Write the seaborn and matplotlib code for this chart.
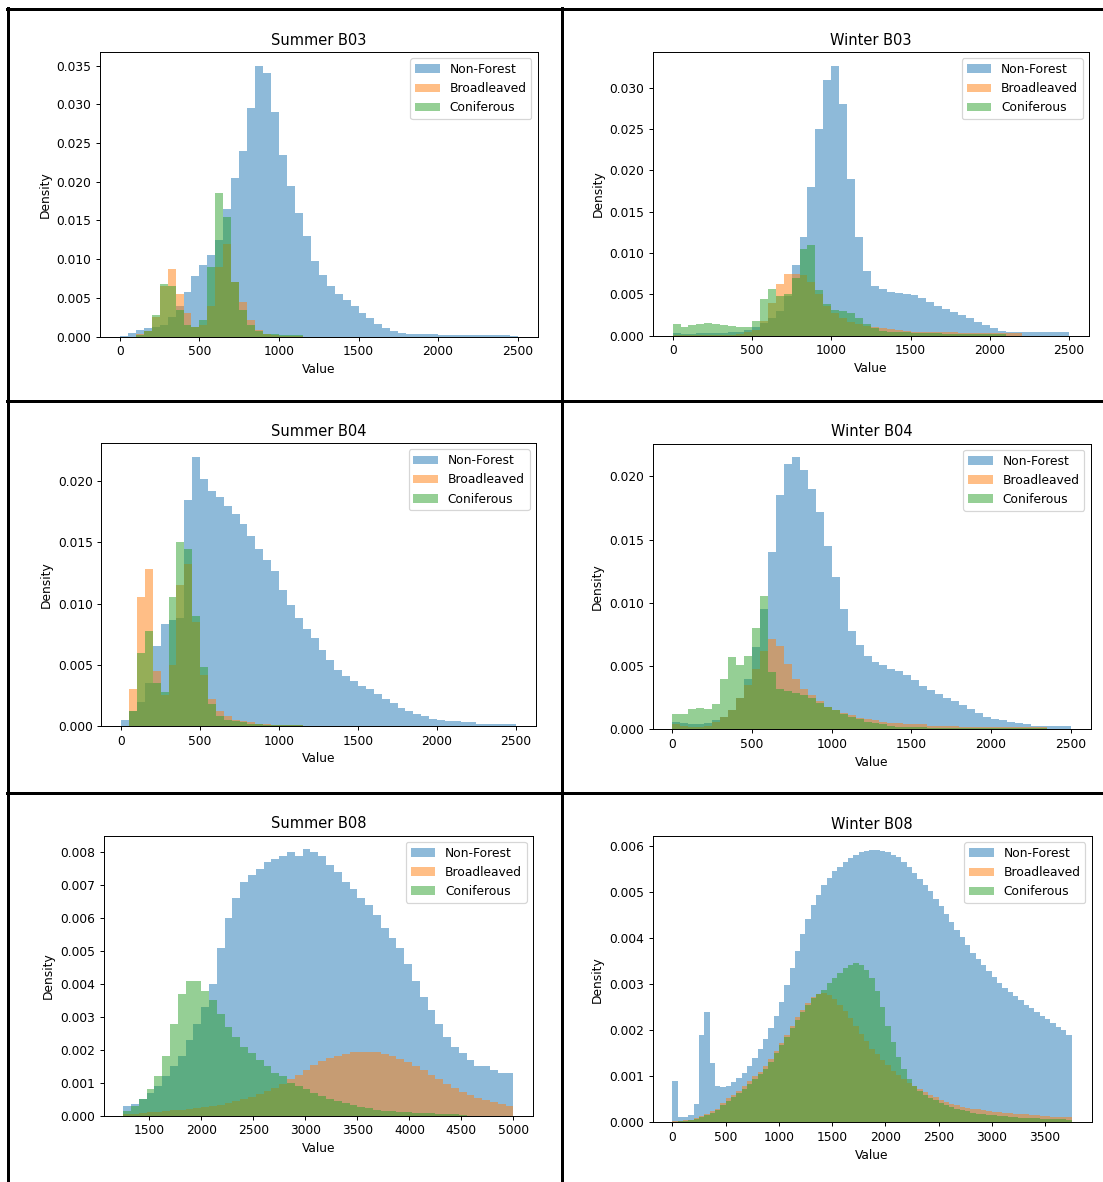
import matplotlib
matplotlib.use('Agg')
import matplotlib.pyplot as plt
from matplotlib.lines import Line2D
import numpy as np
import pandas as pd
import seaborn as sns

# ---- data (density per bin) ----
classes = ['Non-Forest', 'Broadleaved', 'Coniferous']
titles = ['Summer B03', 'Winter B03', 'Summer B04', 'Winter B04', 'Summer B08', 'Winter B08']

# Summer B03, bins of 50
s_b03_nonforest = [0.0001, 0.0005, 0.0009, 0.0011, 0.0012, 0.0015, 0.0025, 0.004, 0.0058, 0.0078,
                   0.0092, 0.0105, 0.0125, 0.0165, 0.0205, 0.024, 0.0295, 0.035, 0.034, 0.029,
                   0.0235, 0.0195, 0.016, 0.013, 0.0098, 0.008, 0.0065, 0.0055, 0.0048, 0.004,
                   0.0031, 0.0024, 0.0017, 0.0011, 0.0007, 0.0005, 0.0004, 0.0004, 0.0003, 0.0003,
                   0.0002, 0.0002, 0.0002, 0.0002, 0.0002, 0.0002, 0.0002, 0.0002, 0.0002, 0.0001]
s_b03_broadleaved = [0.0003, 0.0008, 0.0025, 0.0065, 0.0088, 0.0055, 0.003, 0.0012, 0.0015, 0.004,
                     0.009, 0.012, 0.007, 0.0045, 0.0022, 0.0009, 0.0004, 0.0002, 0.0001, 0.0001, 0.0001]
s_b03_coniferous = [0.0002, 0.0008, 0.0028, 0.0068, 0.0065, 0.0035, 0.0015, 0.0012, 0.0022, 0.009,
                    0.0185, 0.0155, 0.007, 0.0035, 0.0015, 0.0007, 0.0004, 0.0003, 0.0002, 0.0002, 0.0002]

# Winter B03, bins of 50
w_b03_nonforest = [0.0003, 0.0002, 0.0002, 0.0003, 0.0003, 0.0003, 0.0003, 0.0004, 0.0005, 0.0007,
                   0.001, 0.0015, 0.0022, 0.003, 0.0048, 0.0085, 0.012, 0.018, 0.025, 0.031,
                   0.0327, 0.028, 0.019, 0.012, 0.0078, 0.006, 0.0056, 0.0053, 0.0052, 0.0051,
                   0.0049, 0.0046, 0.0041, 0.0036, 0.0032, 0.0029, 0.0025, 0.0021, 0.0017, 0.0013,
                   0.0009, 0.0006, 0.0005, 0.0004, 0.0004, 0.0004, 0.0004, 0.0004, 0.0004, 0.0004]
w_b03_broadleaved = [0.0001, 0.0001, 0.0001, 0.0001, 0.0001, 0.0001, 0.0001, 0.0001, 0.0002, 0.0004,
                     0.0007, 0.0018, 0.004, 0.0062, 0.0075, 0.0075, 0.0073, 0.0065, 0.005, 0.0036,
                     0.0027, 0.0021, 0.0017, 0.0014, 0.0012, 0.001, 0.0009, 0.0008, 0.0007, 0.0006,
                     0.0005, 0.0005, 0.0004, 0.0004, 0.0004, 0.0004, 0.0003, 0.0003, 0.0003, 0.0003,
                     0.0003, 0.0003, 0.0003, 0.0003]
w_b03_coniferous = [0.0014, 0.001, 0.0013, 0.0014, 0.0015, 0.0014, 0.0013, 0.0012, 0.0011, 0.001,
                    0.0018, 0.0045, 0.0057, 0.0048, 0.005, 0.007, 0.0105, 0.011, 0.0055, 0.0038,
                    0.0031, 0.003, 0.0027, 0.0021, 0.0014, 0.0009, 0.0006, 0.0005, 0.0004, 0.0004,
                    0.0003, 0.0003, 0.0003, 0.0003, 0.0002, 0.0002, 0.0002, 0.0002, 0.0002, 0.0002,
                    0.0002, 0.0002]

# Summer B04, bins of 50
s_b04_nonforest = [0.0005, 0.0012, 0.002, 0.0035, 0.0065, 0.0083, 0.0087, 0.0088, 0.0185, 0.022,
                   0.0202, 0.0192, 0.0187, 0.018, 0.0173, 0.0165, 0.0155, 0.0145, 0.0136, 0.0127,
                   0.0111, 0.0099, 0.0088, 0.0079, 0.0072, 0.0062, 0.0054, 0.0046, 0.0041, 0.0037,
                   0.0033, 0.003, 0.0026, 0.0022, 0.0019, 0.0015, 0.0012, 0.001, 0.0008, 0.0006,
                   0.0005, 0.0004, 0.0004, 0.0003, 0.0003, 0.0002, 0.0002, 0.0002, 0.0002, 0.0002]
s_b04_broadleaved = [0.003, 0.0105, 0.0128, 0.0045, 0.0025, 0.005, 0.0115, 0.0132, 0.0085, 0.0042,
                     0.0022, 0.0012, 0.0008, 0.0005, 0.0004, 0.0003, 0.0002, 0.0002, 0.0001, 0.0001,
                     0.0001, 0.0001]
s_b04_coniferous = [0.0012, 0.006, 0.0078, 0.0035, 0.0028, 0.0105, 0.015, 0.0145, 0.009, 0.0048,
                    0.0018, 0.0008, 0.0005, 0.0004, 0.0003, 0.0002, 0.0002, 0.0001, 0.0001, 0.0001,
                    0.0001, 0.0001]

# Winter B04, bins of 50
w_b04_nonforest = [0.0006, 0.0005, 0.0004, 0.0004, 0.0005, 0.0007, 0.001, 0.0015, 0.0025, 0.004,
                   0.0065, 0.0095, 0.014, 0.0185, 0.021, 0.0215, 0.0205, 0.019, 0.0172, 0.0145,
                   0.012, 0.0095, 0.0078, 0.0067, 0.0058, 0.0053, 0.0051, 0.0048, 0.0046, 0.0043,
                   0.0039, 0.0034, 0.0031, 0.0028, 0.0025, 0.0022, 0.0019, 0.0016, 0.0013, 0.001,
                   0.0008, 0.0007, 0.0006, 0.0005, 0.0004, 0.0003, 0.0003, 0.0003, 0.0003, 0.0003]
w_b04_broadleaved = [0.0004, 0.0003, 0.0002, 0.0002, 0.0003, 0.0006, 0.001, 0.0015, 0.0025, 0.0035,
                     0.0048, 0.0062, 0.0071, 0.0066, 0.0052, 0.004, 0.0032, 0.0027, 0.0022, 0.0018,
                     0.0015, 0.0013, 0.0011, 0.0009, 0.0008, 0.0007, 0.0006, 0.0005, 0.0005, 0.0004,
                     0.0004, 0.0004, 0.0003, 0.0003, 0.0003, 0.0003, 0.0002, 0.0002, 0.0002, 0.0002,
                     0.0002, 0.0002, 0.0002, 0.0002, 0.0002, 0.0002, 0.0002]
w_b04_coniferous = [0.0012, 0.0012, 0.0016, 0.0017, 0.0016, 0.002, 0.004, 0.0057, 0.0051, 0.0058,
                    0.008, 0.0105, 0.0045, 0.0032, 0.003, 0.0029, 0.0027, 0.0025, 0.0021, 0.0018,
                    0.0015, 0.0012, 0.001, 0.0008, 0.0006, 0.0005, 0.0004, 0.0003, 0.0002, 0.0002,
                    0.0002, 0.0002, 0.0001, 0.0001, 0.0001, 0.0001, 0.0001, 0.0001, 0.0001, 0.0001,
                    0.0001, 0.0001, 0.0001, 0.0001, 0.0001, 0.0001, 0.0001]

# Summer B08, bins of 75 from 1250
s_b08_nonforest = [0.0003, 0.00035, 0.0005, 0.0007, 0.0009, 0.0012, 0.0015, 0.0018, 0.0023, 0.0028,
                   0.0033, 0.004, 0.0051, 0.006, 0.0066, 0.0071, 0.0073, 0.0075, 0.0077, 0.0078,
                   0.0079, 0.008, 0.0079, 0.0081, 0.008, 0.0079, 0.0076, 0.0074, 0.0071, 0.0069,
                   0.0066, 0.0064, 0.0061, 0.0057, 0.0054, 0.0051, 0.0046, 0.0041, 0.0036, 0.0032,
                   0.0028, 0.0024, 0.0021, 0.0019, 0.0017, 0.0015, 0.0015, 0.0014, 0.0013, 0.0013]
s_b08_broadleaved = [0.00005, 0.00006, 0.00008, 0.0001, 0.00012, 0.00014, 0.00016, 0.00018, 0.0002, 0.00023,
                     0.00026, 0.0003, 0.00034, 0.0004, 0.00045, 0.0005, 0.00058, 0.00066, 0.00075, 0.00085,
                     0.00097, 0.0011, 0.00125, 0.0014, 0.00155, 0.00165, 0.00175, 0.00182, 0.00188, 0.00192,
                     0.00195, 0.00195, 0.00192, 0.00188, 0.00182, 0.00172, 0.00162, 0.0015, 0.00138, 0.00125,
                     0.0011, 0.00097, 0.00085, 0.00073, 0.00063, 0.00055, 0.00048, 0.00042, 0.00036, 0.0003]
s_b08_coniferous = [0.00015, 0.0003, 0.0005, 0.0008, 0.0012, 0.0018, 0.0028, 0.0037, 0.0041, 0.0041,
                    0.0038, 0.0035, 0.0031, 0.0027, 0.0024, 0.0021, 0.0019, 0.0017, 0.0015, 0.0013,
                    0.0012, 0.001, 0.0009, 0.0008, 0.0007, 0.0006, 0.0005, 0.00045, 0.0004, 0.00033,
                    0.00027, 0.00022, 0.00018, 0.00015, 0.00013, 0.00011, 0.0001, 0.00009, 0.00008, 0.00007,
                    0.00006, 0.00005, 0.00004, 0.00003]

# Winter B08, bins of 50
w_b08_nonforest = [0.0009, 0.00012, 0.00012, 0.00015, 0.0004, 0.0019, 0.0024, 0.0013, 0.00078, 0.00076,
                   0.0008, 0.00088, 0.00097, 0.00108, 0.00122, 0.0014, 0.0016, 0.00182, 0.00205, 0.00232,
                   0.00262, 0.00298, 0.00335, 0.00372, 0.0041, 0.00442, 0.00472, 0.00495, 0.00515, 0.00532,
                   0.00546, 0.00556, 0.00566, 0.00575, 0.00582, 0.00587, 0.0059, 0.00592, 0.00593, 0.00591,
                   0.00587, 0.00582, 0.00576, 0.00567, 0.00556, 0.00543, 0.0053, 0.00516, 0.00502, 0.00486,
                   0.0047, 0.00453, 0.00436, 0.00419, 0.00402, 0.00385, 0.00369, 0.00355, 0.00342, 0.00329,
                   0.00316, 0.00303, 0.00292, 0.00283, 0.00274, 0.00265, 0.00256, 0.00248, 0.0024, 0.00232,
                   0.00224, 0.00216, 0.00208, 0.002, 0.0019]
w_b08_broadleaved = [0.00002, 0.00003, 0.00004, 0.00006, 0.0001, 0.00014, 0.00019, 0.00024, 0.0003, 0.00042,
                     0.00052, 0.0006, 0.00068, 0.00078, 0.00089, 0.001, 0.0011, 0.00122, 0.00137, 0.00155,
                     0.00172, 0.0019, 0.00209, 0.00228, 0.00245, 0.0026, 0.00272, 0.00279, 0.00281, 0.00277,
                     0.00268, 0.00256, 0.00242, 0.00227, 0.0021, 0.00193, 0.00176, 0.0016, 0.00148, 0.00136,
                     0.00124, 0.00112, 0.00102, 0.00094, 0.00086, 0.00078, 0.00072, 0.00066, 0.0006, 0.00054,
                     0.00048, 0.00044, 0.0004, 0.00037, 0.00034, 0.00032, 0.0003, 0.00028, 0.00026, 0.00024,
                     0.00023, 0.00022, 0.00021, 0.0002, 0.00019, 0.00018, 0.00017, 0.00016, 0.00015, 0.00014,
                     0.00013, 0.00012, 0.00012, 0.00011, 0.00011]
w_b08_coniferous = [0.00001, 0.00002, 0.00003, 0.00005, 0.00008, 0.00012, 0.00016, 0.0002, 0.00027, 0.00037,
                    0.00047, 0.00055, 0.00063, 0.00073, 0.00084, 0.00095, 0.00105, 0.00117, 0.00132, 0.0015,
                    0.00168, 0.00186, 0.00205, 0.00223, 0.0024, 0.00256, 0.0027, 0.00278, 0.00288, 0.00302,
                    0.00314, 0.00325, 0.00336, 0.00343, 0.00346, 0.00343, 0.00332, 0.00314, 0.00285, 0.0025,
                    0.0021, 0.00175, 0.00142, 0.00115, 0.00094, 0.00078, 0.00067, 0.00059, 0.00053, 0.00048,
                    0.00043, 0.00038, 0.00034, 0.0003, 0.00027, 0.00024, 0.00021, 0.00019, 0.00017, 0.00016,
                    0.00015, 0.00014, 0.00013, 0.00012, 0.00011, 0.0001, 0.0001, 0.00009, 0.00009, 0.00008,
                    0.00008, 0.00007, 0.00007, 0.00007, 0.00006]

# bin layout per panel: (first edge of each series, bin width)
panels = [
    ([s_b03_nonforest, s_b03_broadleaved, s_b03_coniferous], [0, 100, 100], 50),
    ([w_b03_nonforest, w_b03_broadleaved, w_b03_coniferous], [0, 0, 0], 50),
    ([s_b04_nonforest, s_b04_broadleaved, s_b04_coniferous], [0, 50, 50], 50),
    ([w_b04_nonforest, w_b04_broadleaved, w_b04_coniferous], [0, 0, 0], 50),
    ([s_b08_nonforest, s_b08_broadleaved, s_b08_coniferous], [1250, 1250, 1250], 75),
    ([w_b08_nonforest, w_b08_broadleaved, w_b08_coniferous], [0, 0, 0], 50),
]

# ---- layout (pixels in the 1103x1182 output) ----
W, H = 1103, 1182
DPI = 88
# left, right, top, bottom of each axes
boxes = [
    (100, 537.5, 52, 336.7), (652.8, 1089, 52, 335.7),
    (101.4, 535.7, 443.3, 726), (652.5, 1090.5, 443.7, 729.3),
    (103.6, 533, 835.7, 1115.7), (652.5, 1091.5, 836, 1122.3),
]
colors = ['tab:blue', 'tab:orange', 'tab:green']

plt.rcParams['font.family'] = 'DejaVu Sans'
fig = plt.figure(figsize=(W / DPI, H / DPI), dpi=DPI)
fig.patch.set_facecolor('white')

for (series, starts, width), title, (l, r, t, b) in zip(panels, titles, boxes):
    ax = fig.add_axes([l / W, 1 - b / H, (r - l) / W, (b - t) / H])
    for heights, start, label, color in zip(series, starts, classes, colors):
        edges = start + width * np.arange(len(heights) + 1)
        df = pd.DataFrame({'value': (edges[:-1] + edges[1:]) / 2, 'density': heights})
        # seaborn compares bins to "auto", so hand it a plain list
        sns.histplot(data=df, x='value', weights='density', bins=edges.tolist(), ax=ax,
                     color=color, alpha=0.5, linewidth=0, label=label)
    ax.set_title(title)
    ax.set_xlabel('Value')
    ax.set_ylabel('Density')
    ax.legend(loc='upper right')

# black table grid around the panels
lw = 3 * 72 / DPI
for x in (8, 562):
    fig.add_artist(Line2D([x / W, x / W], [0, 1 - 8 / H], color='black', lw=lw))
for y in (9, 401, 793):
    fig.add_artist(Line2D([7 / W, 1], [1 - y / H, 1 - y / H], color='black', lw=lw))

fig.savefig('out.png', dpi=DPI)
